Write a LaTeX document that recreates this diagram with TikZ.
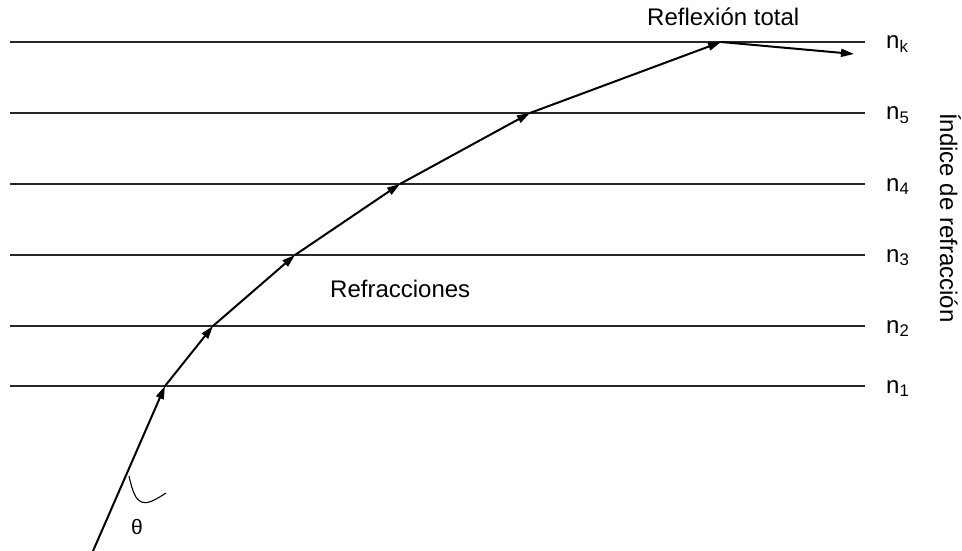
\documentclass[tikz,border=0pt]{standalone}
\usepackage{fontspec}
\setmainfont{Liberation Sans}
\usetikzlibrary{arrows.meta}
\begin{document}
\begin{tikzpicture}[x=1pt,y=-1pt,
  layer/.style={line width=1.5pt,draw=black!85},
  ray/.style={line width=2pt,-{Triangle[length=13pt,width=8pt]}},
  lbl/.style={inner sep=0pt,font=\fontsize{24}{28}\selectfont}]
\useasboundingbox (0,0) rectangle (962,551);
% layers
\foreach \y/\n in {42/k,113/5,184/4,255/3,326/2,386/1}{
  \coordinate (L\n) at (10,\y);
  \coordinate (R\n) at (865,\y);
  \draw[layer] (L\n) -- (R\n);
  \node[lbl,anchor=base west] (n\n) at (886,\y+7) {n$_{\mathrm{\n}}$};
}
% ray vertices
\coordinate (v0) at (93,551);
\coordinate (v1) at (165,386);
\coordinate (v2) at (213,326);
\coordinate (v3) at (295,255);
\coordinate (v4) at (400,184);
\coordinate (v5) at (530,113);
\coordinate (v6) at (721,42);
\coordinate (v7) at (854,54);
\draw[ray] (v0) -- (v1);
\draw[ray] (v1) -- (v2);
\draw[ray] (v2) -- (v3);
\draw[ray] (v3) -- (v4);
\draw[ray] (v4) -- (v5);
\draw[ray] (v5) -- (v6);
\draw[ray] (v6) -- (v7);
% angle mark
\coordinate (a0) at (129,476);
\coordinate (a1) at (166,493);
\draw[line width=1.1pt] (a0) .. controls (136,508) and (143,508) .. (a1);
\node[inner sep=0pt,font=\fontsize{21}{24}\selectfont] (theta) at (137,527) {θ};
% labels
\node[lbl,anchor=base west] (refl) at (647,26) {Reflexión total};
\node[lbl,anchor=base west] (refr) at (330,297) {Refracciones};
\node[lbl,anchor=base west,rotate=-90] (idx) at (940,113) {Índice de refracción};
\end{tikzpicture}
\end{document}
